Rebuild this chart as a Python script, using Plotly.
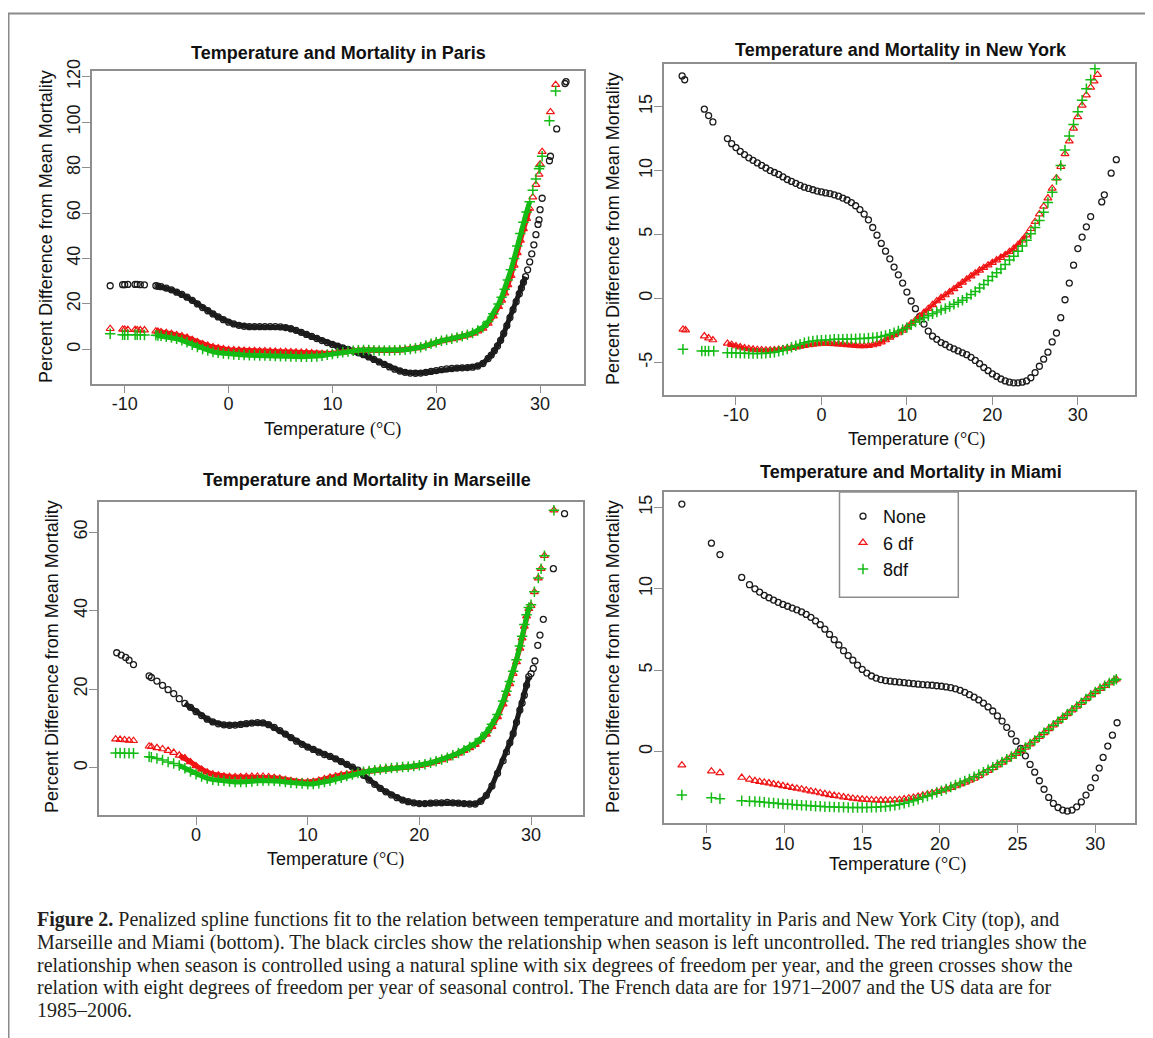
import plotly.graph_objects as go

# Temperature (deg C) and percent difference from mean mortality.
# "none" = season uncontrolled, "6df" / "8df" = seasonal spline per year.

# ---------------- Paris ----------------
paris_grid = [-6.5, -6.0, -5.5, -5.0, -4.5, -4.0, -3.5, -3.0, -2.5, -2.0, -1.5, -1.0, -0.5, 0.0,
              0.5, 1.0, 1.5, 2.0, 2.5, 3.0, 3.5, 4.0, 4.5, 5.0, 5.5, 6.0, 6.5, 7.0, 7.5, 8.0,
              8.5, 9.0, 9.5, 10.0, 10.5, 11.0, 11.5, 12.0, 12.5, 13.0, 13.5, 14.0, 14.5, 15.0,
              15.5, 16.0, 16.5, 17.0, 17.5, 18.0, 18.5, 19.0, 19.5, 20.0, 20.5, 21.0, 21.5,
              22.0, 22.5, 23.0, 23.5, 24.0]
paris_cold = [-11.4, -10.2, -10.0, -9.7, -9.0, -8.8, -8.5, -8.1, -7.0, -6.8]

paris_none_t = paris_cold + paris_grid + [24.5, 25.0, 25.3, 25.6, 25.9, 26.2, 26.5, 26.8, 27.1,
                                          27.4, 27.7, 28.0, 28.2, 28.4, 28.6, 28.8, 29.0, 29.2,
                                          29.4, 29.6, 29.8, 29.9, 30.0, 30.2, 30.9, 31.0, 31.6,
                                          32.4, 32.5]
paris_none_pct = [28.0, 28.5, 28.5, 28.6, 28.6, 28.6, 28.5, 28.4, 28.0, 27.8,
                  27.6, 27.0, 26.2, 25.2, 24.2, 23.0, 21.6, 20.0, 18.4, 17.0, 15.6, 14.3, 13.1, 12.0,
                  11.2, 10.6, 10.2, 10.0, 10.0, 10.0, 10.0, 10.0, 10.0, 9.9, 9.6, 9.1, 8.4, 7.5, 6.6,
                  5.7, 4.8, 3.9, 3.0, 2.2, 1.4, 0.7, 0.0, -0.7, -1.5, -2.3, -3.3, -4.4, -5.5, -6.6,
                  -7.7, -8.7, -9.5, -10.1, -10.4, -10.5, -10.4, -10.1, -9.7, -9.3, -8.9, -8.6, -8.4,
                  -8.2, -8.1, -8.0, -7.8, -7.3,
                  -6.2, -4.0, -2.5, -0.6, 1.5, 4.0, 7.0, 10.5, 14.0, 17.5, 21.0, 24.5, 27.0, 29.5,
                  32.0, 35.0, 38.5, 42.0, 46.0, 50.5, 55.0, 57.0, 61.5, 66.5, 83.0, 85.0, 97.0,
                  117.0, 117.8]

paris_hot = [24.5, 25.0, 25.5, 26.0, 26.3, 26.6, 26.9, 27.2, 27.5, 27.8, 28.1, 28.4, 28.7, 29.0,
             29.3, 29.6, 29.9, 30.0, 30.2]
paris_6df_t = paris_cold + paris_grid + paris_hot + [31.0, 31.5]
paris_6df_pct = [9.1, 8.8, 8.8, 8.7, 8.7, 8.6, 8.5, 8.5, 8.0, 7.9,
                 7.7, 7.3, 6.9, 6.4, 5.9, 5.2, 4.3, 3.3, 2.4, 1.7, 1.1, 0.6, 0.2, -0.1,
                 -0.3, -0.4, -0.5, -0.6, -0.6, -0.7, -0.7, -0.8, -0.9, -1.0, -1.0, -1.1, -1.2, -1.3,
                 -1.4, -1.6, -1.8, -1.9, -1.9, -1.8, -1.5, -1.2, -0.9, -0.6, -0.4, -0.3, -0.3, -0.4,
                 -0.5, -0.5, -0.5, -0.4, -0.3, -0.1, 0.2, 0.5, 1.0, 1.6, 2.4, 3.1, 3.7, 4.2, 4.6,
                 5.1, 5.7, 6.3, 7.0, 8.0,
                 9.2, 11.4, 14.6, 18.8, 21.6, 24.8, 28.4, 32.5, 37.0, 42.5, 48.0, 53.0, 57.5, 62.0,
                 67.0, 72.5, 77.0, 81.5, 87.0, 104.5, 116.5]

paris_8df_t = paris_cold + paris_grid + paris_hot + [30.9, 31.5]
paris_8df_pct = [6.9, 6.5, 6.5, 6.5, 6.5, 6.4, 6.4, 6.3, 6.2, 6.1,
                 6.0, 5.6, 5.2, 4.7, 4.0, 3.1, 2.1, 1.1, 0.2, -0.5, -1.1, -1.5, -1.8, -2.0,
                 -2.2, -2.4, -2.5, -2.6, -2.6, -2.7, -2.7, -2.8, -2.9, -3.0, -3.0, -3.1, -3.1, -3.2,
                 -3.2, -3.2, -3.1, -2.8, -2.4, -2.0, -1.6, -1.2, -0.9, -0.6, -0.4, -0.3, -0.3, -0.4,
                 -0.5, -0.5, -0.5, -0.4, -0.3, -0.1, 0.2, 0.5, 1.0, 1.7, 2.5, 3.2, 3.8, 4.3, 4.7,
                 5.2, 5.8, 6.4, 7.2, 8.3,
                 9.8, 12.3, 15.7, 20.0, 23.0, 26.5, 30.5, 35.0, 40.0, 45.5, 51.0, 56.0, 60.5, 65.0,
                 70.0, 75.0, 79.5, 80.5, 85.0, 100.6, 113.7]

# ---------------- New York ----------------
ny_grid = [-11.0, -10.5, -10.0, -9.5, -9.0, -8.5, -8.0, -7.5, -7.0, -6.5, -6.0, -5.5, -5.0, -4.5,
           -4.0, -3.5, -3.0, -2.5, -2.0, -1.5, -1.0, -0.5, 0.0, 0.5, 1.0, 1.5, 2.0, 2.5, 3.0, 3.5,
           4.0, 4.5, 5.0, 5.5, 6.0, 6.5, 7.0, 7.5, 8.0, 8.5, 9.0, 9.5, 10.0, 10.5, 11.0, 11.5,
           12.0, 12.5, 13.0, 13.5, 14.0, 14.5, 15.0, 15.5, 16.0, 16.5, 17.0, 17.5, 18.0, 18.5,
           19.0, 19.5, 20.0, 20.5, 21.0, 21.5, 22.0, 22.5, 23.0, 23.5, 24.0, 24.5, 25.0, 25.5,
           26.0, 26.5, 27.0, 27.5, 28.0, 28.5, 29.0, 29.5, 30.0, 30.5, 31.0, 31.5]

ny_none_t = [-16.3, -16.0, -13.7, -13.2, -12.7] + ny_grid + [32.8, 33.1, 33.9, 34.5]
ny_none_pct = [17.4, 17.1, 14.8, 14.3, 13.8,
               12.5, 12.1, 11.8, 11.5, 11.25, 11.0, 10.8, 10.6, 10.4, 10.2, 10.0, 9.85, 9.7, 9.5,
               9.3, 9.15, 9.0, 8.85, 8.7, 8.6, 8.5, 8.4, 8.33, 8.25, 8.2, 8.1, 8.0, 7.85, 7.7, 7.5,
               7.25, 6.95, 6.6, 6.15, 5.55, 4.95, 4.3, 3.7, 3.1, 2.45, 1.85, 1.2, 0.5, -0.2, -0.8,
               -1.4, -2.0, -2.55, -2.95, -3.2, -3.45, -3.6, -3.8, -3.95, -4.1, -4.25, -4.4, -4.6,
               -4.85, -5.1, -5.4, -5.65, -5.9, -6.1, -6.3, -6.45, -6.55, -6.6, -6.6, -6.55, -6.45,
               -6.2, -5.8, -5.3, -4.75, -4.2, -3.4, -2.7, -1.5, -0.1, 1.2, 2.6, 3.9, 4.8, 5.6, 6.4,
               7.55, 8.1, 9.8, 10.85]

ny_6df_t = [-16.2, -15.9, -13.7, -13.2, -12.7] + ny_grid + [31.9, 32.3]
ny_6df_pct = [-2.42, -2.47, -2.94, -3.1, -3.25,
              -3.52, -3.62, -3.72, -3.8, -3.88, -3.94, -3.98, -4.01, -4.03, -4.04, -4.04, -4.02,
              -3.99, -3.95, -3.9, -3.85, -3.8, -3.75, -3.7, -3.64, -3.59, -3.55, -3.52, -3.52,
              -3.53, -3.55, -3.57, -3.6, -3.63, -3.66, -3.69, -3.71, -3.72, -3.7, -3.64, -3.55,
              -3.42, -3.25, -3.05, -2.85, -2.7, -2.5, -2.25, -1.95, -1.7, -1.4, -1.1, -0.8, -0.5,
              -0.2, 0.05, 0.27, 0.5, 0.75, 1.0, 1.25, 1.5, 1.75, 1.98, 2.2, 2.4, 2.6, 2.8, 3.0,
              3.2, 3.4, 3.65, 3.9, 4.2, 4.55, 4.95, 5.45, 6.0, 6.6, 7.2, 7.85, 8.6, 9.4, 10.3,
              11.3, 12.3, 13.3, 14.2, 15.1, 15.9, 16.5,
              17.0, 17.5]

ny_8df_t = [-16.2, -14.0, -13.6, -13.2, -12.6] + ny_grid + [32.0]
ny_8df_pct = [-3.98, -4.1, -4.1, -4.1, -4.1,
              -4.24, -4.25, -4.27, -4.28, -4.29, -4.3, -4.3, -4.3, -4.3, -4.28, -4.25, -4.2, -4.13,
              -4.05, -3.95, -3.82, -3.7, -3.58, -3.46, -3.38, -3.32, -3.28, -3.26, -3.24, -3.22,
              -3.2, -3.2, -3.2, -3.18, -3.17, -3.15, -3.14, -3.13, -3.1, -3.07, -3.03, -2.98, -2.9,
              -2.8, -2.68, -2.55, -2.42, -2.27, -2.05, -1.85, -1.67, -1.5, -1.36, -1.2, -1.05,
              -0.9, -0.78, -0.62, -0.45, -0.3, -0.15, 0.05, 0.3, 0.55, 0.82, 1.1, 1.4, 1.72, 2.0,
              2.3, 2.65, 3.0, 3.3, 3.7, 4.1, 4.55, 5.05, 5.55, 6.1, 6.75, 7.5, 8.3, 9.3, 10.4,
              11.6, 12.7, 13.6, 14.6, 15.5, 16.4, 17.1,
              17.97]

# ---------------- Marseille ----------------
mrs_grid = [-4.0, -3.5, -3.0, -2.5, -2.0, -1.5, -1.0, -0.5, 0.0, 0.5, 1.0, 1.5, 2.0, 2.5, 3.0,
            3.5, 4.0, 4.5, 5.0, 5.5, 6.0, 6.5, 7.0, 7.5, 8.0, 8.5, 9.0, 9.5, 10.0, 10.5, 11.0,
            11.5, 12.0, 12.5, 13.0, 13.5, 14.0, 14.5, 15.0, 15.5, 16.0, 16.5, 17.0, 17.5, 18.0,
            18.5, 19.0, 19.5, 20.0, 20.5, 21.0, 21.5, 22.0, 22.5, 23.0, 23.5, 24.0, 24.5, 25.0,
            25.5, 26.0, 26.5, 27.0, 27.5]

mrs_none_t = [-7.1, -6.7, -6.3, -6.0, -5.6, -4.2] + mrs_grid + [27.8, 28.1, 28.4, 28.7, 29.0,
                                                               29.2, 29.4, 29.6, 29.8, 30.0,
                                                               30.2, 30.35, 30.6, 30.8, 31.1,
                                                               32.0, 33.0]
mrs_none_pct = [29.3, 28.7, 28.1, 27.4, 26.3, 23.4,
                23.0, 22.1, 21.0, 19.9, 18.9, 17.6, 16.4, 15.4, 14.3, 13.3, 12.4, 11.7, 11.2,
                10.95, 10.85, 10.9, 11.05, 11.25, 11.4, 11.5, 11.45, 11.0, 10.3, 9.5, 8.6, 7.7,
                6.8, 6.0, 5.3, 4.7, 4.0, 3.4, 2.9, 2.3, 1.6, 0.9, 0.2, -0.6, -1.9, -3.1, -4.2,
                -5.2, -6.1, -6.9, -7.6, -8.2, -8.6, -8.9, -9.1, -9.1, -9.0, -8.9, -8.9, -8.8, -8.9,
                -9.0, -9.1, -9.2, -9.2, -8.5, -7.0, -4.6, -1.4, 1.8,
                4.0, 6.4, 8.7, 11.6, 14.7, 16.5, 18.5, 21.0, 23.2, 24.0, 25.3, 27.2, 31.2, 33.8,
                37.8, 50.7, 64.7]

mrs_hot = [27.8, 28.1, 28.4, 28.7, 29.0, 29.2, 29.4, 29.6, 29.8, 30.0, 30.3, 30.65, 30.9, 31.2,
           32.05]
mrs_6df_t = [-7.2, -6.8, -6.4, -6.0, -5.6, -4.2] + mrs_grid + mrs_hot
mrs_6df_pct = [7.3, 7.2, 7.1, 7.0, 6.9, 5.5,
               5.4, 5.1, 4.8, 4.4, 3.9, 3.2, 2.5, 1.5, 0.5, -0.4, -1.1, -1.6, -1.9, -2.1, -2.25,
               -2.3, -2.3, -2.25, -2.2, -2.2, -2.2, -2.3, -2.5, -2.7, -3.0, -3.3, -3.5, -3.6, -3.6,
               -3.5, -3.2, -2.8, -2.4, -2.1, -1.8, -1.6, -1.4, -1.2, -1.0, -0.8, -0.6, -0.4, -0.2,
               -0.1, 0.0, 0.1, 0.2, 0.35, 0.55, 0.85, 1.2, 1.6, 2.0, 2.5, 3.1, 3.7, 4.4, 5.1, 5.9,
               7.1, 8.5, 10.5, 13.0, 16.2,
               18.9, 21.4, 24.0, 27.0, 30.4, 33.0, 36.0, 38.6, 40.5, 41.3, 44.8, 48.3, 50.7, 54.0,
               65.6]

mrs_8df_t = [-7.2, -6.8, -6.4, -6.0, -5.6, -4.2] + mrs_grid + mrs_hot
mrs_8df_pct = [3.8, 3.8, 3.7, 3.7, 3.7, 2.8,
               2.7, 2.4, 2.0, 1.5, 1.1, 0.6, -0.1, -0.9, -1.6, -2.2, -2.7, -3.0, -3.2, -3.3, -3.5,
               -3.6, -3.6, -3.6, -3.5, -3.3, -3.2, -3.2, -3.3, -3.4, -3.6, -3.8, -3.9, -4.0, -4.1,
               -4.1, -3.9, -3.6, -3.3, -2.9, -2.5, -2.1, -1.7, -1.3, -1.0, -0.8, -0.6, -0.4, -0.2,
               -0.05, 0.1, 0.2, 0.3, 0.45, 0.65, 0.95, 1.3, 1.7, 2.1, 2.6, 3.2, 3.8, 4.5, 5.3, 6.2,
               7.5, 9.0, 11.1, 13.6, 17.0,
               19.5, 22.0, 24.6, 27.5, 31.0, 33.5, 36.5, 39.0, 40.8, 41.5, 44.8, 48.3, 50.7, 54.0,
               65.6]

# ---------------- Miami ----------------
mia_head = [3.4, 5.3, 5.85, 7.25, 7.75, 8.1, 8.4, 8.7]
mia_grid = [9.0, 9.3, 9.6, 9.9, 10.2, 10.5, 10.8, 11.1, 11.4, 11.7, 12.0, 12.3, 12.6, 12.9, 13.2,
            13.5, 13.8, 14.1, 14.4, 14.7, 15.0, 15.3, 15.6, 15.9, 16.2, 16.5, 16.8, 17.1, 17.4,
            17.7, 18.0, 18.3, 18.6, 18.9, 19.2, 19.5, 19.8, 20.1, 20.4, 20.7, 21.0, 21.3, 21.6,
            21.9, 22.2, 22.5, 22.8, 23.1, 23.4, 23.7, 24.0, 24.3, 24.6, 24.9, 25.2, 25.5, 25.8,
            26.1, 26.4, 26.7, 27.0, 27.3, 27.6, 27.9, 28.2, 28.5, 28.8, 29.1, 29.4, 29.7]

mia_none_t = mia_head + mia_grid + [30.0, 30.25, 30.5, 30.8, 31.1, 31.4]
mia_none_pct = [15.2, 12.8, 12.1, 10.7, 10.25, 10.0, 9.8, 9.6,
                9.45, 9.31, 9.17, 9.04, 8.93, 8.82, 8.71, 8.58, 8.43, 8.25, 8.03, 7.8, 7.52, 7.2,
                6.88, 6.55, 6.2, 5.9, 5.62, 5.32, 5.05, 4.83, 4.65, 4.52, 4.43, 4.37, 4.33, 4.3,
                4.27, 4.24, 4.21, 4.18, 4.15, 4.12, 4.1, 4.08, 4.05, 4.02, 3.98, 3.93, 3.86, 3.77,
                3.65, 3.5, 3.35, 3.18, 2.98, 2.75, 2.5, 2.2, 1.88, 1.5, 1.1, 0.65, 0.2, -0.25,
                -0.78, -1.25, -1.78, -2.3, -2.8, -3.17, -3.42, -3.58, -3.64, -3.58, -3.38, -3.08,
                -2.66, -2.2,
                -1.6, -1.0, -0.35, 0.35, 1.02, 1.78]

mia_hot = [30.0, 30.3, 30.6, 30.9, 31.2, 31.35]
mia_6df_t = mia_head + mia_grid + mia_hot
mia_6df_pct = [-0.82, -1.19, -1.29, -1.58, -1.7, -1.78, -1.84, -1.88,
               -1.92, -1.98, -2.03, -2.09, -2.14, -2.2, -2.25, -2.3, -2.36, -2.42, -2.47, -2.53,
               -2.58, -2.64, -2.69, -2.73, -2.78, -2.82, -2.86, -2.89, -2.92, -2.94, -2.96, -2.97,
               -2.98, -2.98, -2.97, -2.96, -2.94, -2.9, -2.85, -2.8, -2.74, -2.67, -2.6, -2.53,
               -2.45, -2.37, -2.29, -2.2, -2.1, -1.99, -1.88, -1.76, -1.64, -1.48, -1.32, -1.16,
               -0.99, -0.82, -0.65, -0.47, -0.29, -0.11, 0.06, 0.26, 0.47, 0.69, 0.92, 1.16, 1.4,
               1.63, 1.86, 2.09, 2.32, 2.55, 2.78, 3.01, 3.24, 3.47,
               3.67, 3.87, 4.05, 4.22, 4.38, 4.45]

mia_8df_t = mia_head + mia_grid + mia_hot
mia_8df_pct = [-2.66, -2.82, -2.89, -3.01, -3.03, -3.05, -3.07, -3.1,
               -3.13, -3.15, -3.17, -3.2, -3.22, -3.24, -3.26, -3.28, -3.3, -3.32, -3.34, -3.35,
               -3.37, -3.38, -3.39, -3.4, -3.41, -3.42, -3.42, -3.42, -3.42, -3.42, -3.41, -3.4,
               -3.38, -3.36, -3.33, -3.29, -3.23, -3.16, -3.08, -3.0, -2.91, -2.81, -2.71, -2.61,
               -2.5, -2.39, -2.28, -2.16, -2.04, -1.92, -1.8, -1.67, -1.54, -1.4, -1.25, -1.1,
               -0.95, -0.79, -0.63, -0.46, -0.29, -0.12, 0.06, 0.26, 0.47, 0.69, 0.92, 1.16, 1.4,
               1.63, 1.86, 2.09, 2.32, 2.55, 2.78, 3.01, 3.24, 3.47,
               3.67, 3.87, 4.05, 4.22, 4.38, 4.45]

series_names = ["None", "6 df", "8df"]

# tick values per panel
paris_xticks = [-10, 0, 10, 20, 30]
paris_yticks = [0, 20, 40, 60, 80, 100, 120]
ny_xticks = [-10, 0, 10, 20, 30]
ny_yticks = [-5, 0, 5, 10, 15]
mrs_xticks = [0, 10, 20, 30]
mrs_yticks = [0, 20, 40, 60]
mia_xticks = [5, 10, 15, 20, 25, 30]
mia_yticks = [0, 5, 10, 15]

W, H = 1153, 1038
OFF = 8  # the page body margin shifts the figure by this much
SANS = "Liberation Sans, Arial, sans-serif"
SERIF = "Liberation Serif, Times New Roman, serif"


def px(x):
    return (x - OFF) / W


def py(y):
    return 1 - (y - OFF) / H


marker_styles = [
    dict(symbol="circle-open", size=6, color="#1c1c1c", line=dict(width=1.3, color="#1c1c1c")),
    dict(symbol="triangle-up-open", size=7, color="#f01414", line=dict(width=1.2, color="#f01414")),
    dict(symbol="cross-thin-open", size=7.5, color="#14bb14", line=dict(width=1.5, color="#14bb14")),
]

# panel geometry in page pixels: left, right, top, bottom, x range, y range
panels = [
    dict(suffix="", box=(91.7, 584, 71, 383.5), xr=[-13.18, 34.23], yr=[-15.0, 122.5],
         xt=paris_xticks, yt=paris_yticks,
         series=[(paris_none_t, paris_none_pct), (paris_6df_t, paris_6df_pct),
                 (paris_8df_t, paris_8df_pct)],
         bands=[(-7.0, 28.6, 5), (-7.0, 29.0, 5), (-7.0, 29.0, 5)]),
    dict(suffix="2", box=(664, 1134.5, 64.3, 395), xr=[-18.42, 36.63], yr=[-7.55, 18.31],
         xt=ny_xticks, yt=ny_yticks,
         series=[(ny_none_t, ny_none_pct), (ny_6df_t, ny_6df_pct), (ny_8df_t, ny_8df_pct)],
         bands=[None, (-11.0, 24.0, 3), None]),
    dict(suffix="3", box=(99.1, 583.3, 502.3, 815), xr=[-8.68, 34.68], yr=[-12.0, 67.6],
         xt=mrs_xticks, yt=mrs_yticks,
         series=[(mrs_none_t, mrs_none_pct), (mrs_6df_t, mrs_6df_pct), (mrs_8df_t, mrs_8df_pct)],
         bands=[(-1.0, 29.8, 5), (-1.5, 29.8, 5), (-1.5, 29.8, 5)]),
    dict(suffix="4", box=(664, 1134.5, 492, 823.3), xr=[2.25, 32.52], yr=[-4.39, 15.94],
         xt=mia_xticks, yt=mia_yticks,
         series=[(mia_none_t, mia_none_pct), (mia_6df_t, mia_6df_pct), (mia_8df_t, mia_8df_pct)],
         bands=[None, None, None]),
]

fig = go.Figure()

for p in panels:
    sfx = p["suffix"]
    for i, (t, pct) in enumerate(p["series"]):
        if len(t) != len(pct):
            raise ValueError(f"length mismatch in panel '{sfx}' series {i}: {len(t)} vs {len(pct)}")
        col = marker_styles[i]["color"]
        band = p["bands"][i]
        if band is not None:
            lo, hi, w = band
            bx = [a for a in t if lo <= a <= hi]
            by = [b for a, b in zip(t, pct) if lo <= a <= hi]
            fig.add_trace(go.Scatter(x=bx, y=by, mode="lines", line=dict(color=col, width=w),
                                     xaxis="x" + sfx, yaxis="y" + sfx, showlegend=False,
                                     hoverinfo="skip"))
        fig.add_trace(go.Scatter(
            x=t, y=pct, mode="markers",
            name=series_names[i],
            marker=marker_styles[i],
            xaxis="x" + sfx, yaxis="y" + sfx,
            showlegend=(sfx == "4"),
            hoverinfo="skip",
        ))

axis_common = dict(
    showline=True, mirror=True, linecolor="#8e8e8e", linewidth=1.5,
    ticks="outside", ticklen=8, tickwidth=1.3, tickcolor="#8e8e8e",
    showgrid=False, zeroline=False, automargin=False, ticklabelstandoff=-5,
    tickfont=dict(family=SANS, size=18, color="#1a1a1a"),
)

layout_axes = {}
for n, p in enumerate(panels, start=1):
    l, r, t, b = p["box"]
    k = "" if n == 1 else str(n)
    layout_axes["xaxis" + k] = dict(axis_common, domain=[px(l), px(r)], range=p["xr"],
                                    tickvals=p["xt"], ticktext=[str(v) for v in p["xt"]],
                                    anchor="y" + k)
    layout_axes["yaxis" + k] = dict(axis_common, domain=[py(b), py(t)], range=p["yr"],
                                    tickvals=p["yt"], ticktext=[str(v) for v in p["yt"]],
                                    tickangle=-90, anchor="x" + k)

titles = [
    ("Temperature and Mortality in Paris", 338, 53),
    ("Temperature and Mortality in New York", 901, 50),
    ("Temperature and Mortality in Marseille", 367, 480),
    ("Temperature and Mortality in Miami", 911, 472),
]
xtitle_pos = [(332, 430), (917, 439), (335, 859), (897, 864)]
ytitle_pos = [(46, 227), (613, 229), (52, 657), (613, 657)]

annotations = []
for text, x, y in titles:
    annotations.append(dict(text="<b>" + text + "</b>", x=px(x), y=py(y), xref="paper", yref="paper",
                            showarrow=False, xanchor="center", yanchor="middle",
                            font=dict(family=SANS, size=18, color="#111111")))
for x, y in xtitle_pos:
    annotations.append(dict(
        text="Temperature <span style='font-family:Liberation Serif'>(°C)</span>",
        x=px(x), y=py(y), xref="paper", yref="paper", showarrow=False,
        xanchor="center", yanchor="middle", font=dict(family=SANS, size=18, color="#111111")))
for x, y in ytitle_pos:
    annotations.append(dict(
        text="Percent Difference from Mean Mortality", textangle=-90,
        x=px(x), y=py(y), xref="paper", yref="paper", showarrow=False,
        xanchor="center", yanchor="middle", font=dict(family=SANS, size=18, color="#111111")))

caption_lines = [
    "<b>Figure 2.</b> Penalized spline functions fit to the relation between temperature and mortality in Paris and New York City (top), and",
    "Marseille and Miami (bottom). The black circles show the relationship when season is left uncontrolled. The red triangles show the",
    "relationship when season is controlled using a natural spline with six degrees of freedom per year, and the green crosses show the",
    "relation with eight degrees of freedom per year of seasonal control. The French data are for 1971–2007 and the US data are for",
    "1985–2006.",
]
caption_y = [919, 942, 965, 987, 1010]
for line, y in zip(caption_lines, caption_y):
    annotations.append(dict(text=line, x=px(35), y=py(y), xref="paper", yref="paper",
                            showarrow=False, xanchor="left", yanchor="middle",
                            font=dict(family=SERIF, size=20, color="#231f20")))

shapes = [
    # page frame
    dict(type="line", xref="paper", yref="paper", x0=px(8), x1=1, y0=py(13.5), y1=py(13.5),
         line=dict(color="#8a8a8a", width=2)),
    dict(type="line", xref="paper", yref="paper", x0=px(8.5), x1=px(8.5), y0=py(13.5), y1=0,
         line=dict(color="#8a8a8a", width=2)),
    # legend box in the Miami panel
    dict(type="rect", xref="paper", yref="paper", x0=px(839.5), x1=px(958.3),
         y0=py(597.3), y1=py(492), line=dict(color="#8e8e8e", width=1.5),
         fillcolor="rgba(0,0,0,0)"),
]

fig.update_layout(
    width=W, height=H,
    margin=dict(l=0, r=0, t=0, b=0, pad=0, autoexpand=False),
    paper_bgcolor="white", plot_bgcolor="white",
    annotations=annotations, shapes=shapes,
    legend=dict(x=px(843), y=py(498), xanchor="left", yanchor="top",
                bgcolor="rgba(0,0,0,0)", borderwidth=0,
                font=dict(family=SANS, size=18, color="#111111")),
    **layout_axes,
)

fig.write_html("out.html")
